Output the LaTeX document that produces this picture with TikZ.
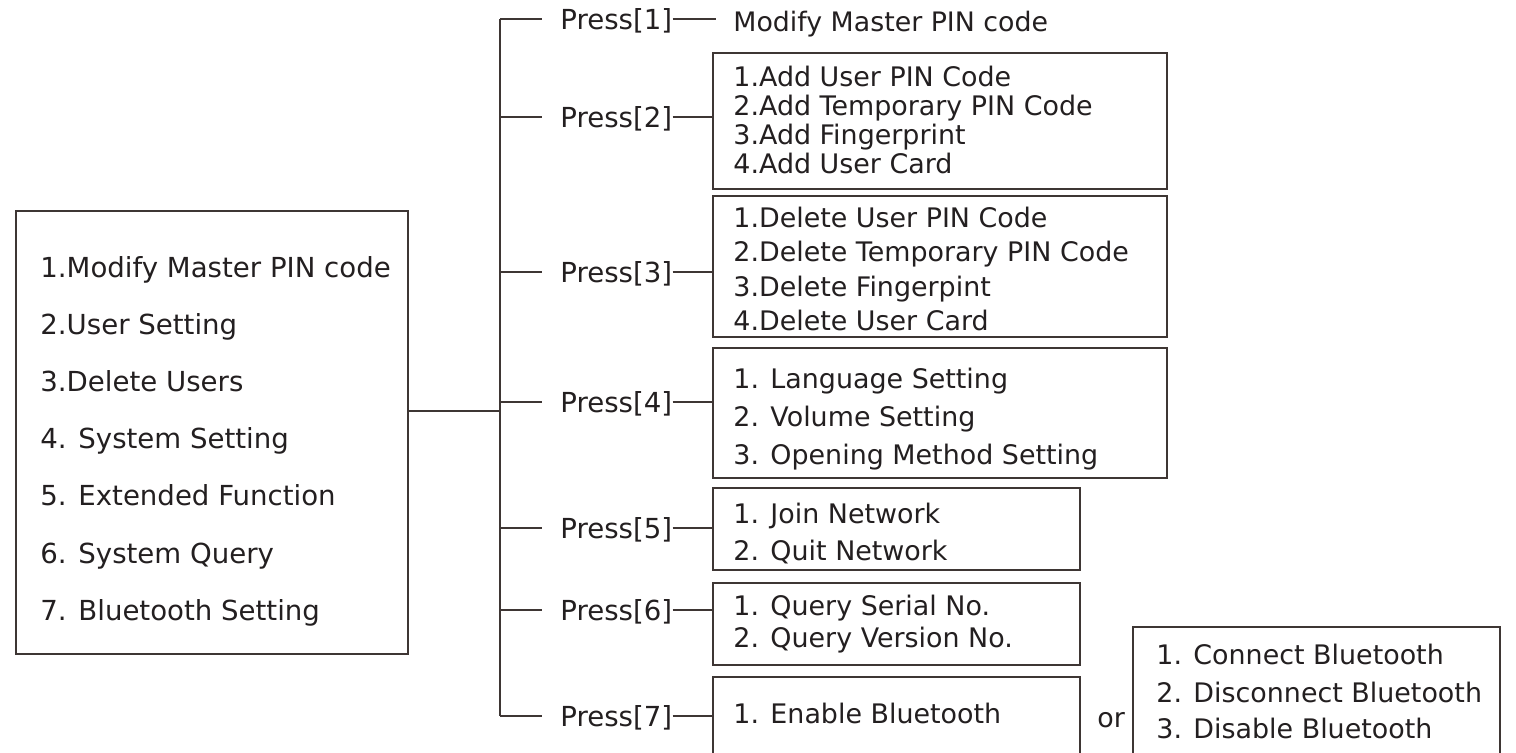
\documentclass[tikz,border=0pt]{standalone}
\usepackage{fontspec}
\setmainfont{DejaVu Sans}
\definecolor{ln}{HTML}{3E3634}
\definecolor{tx}{HTML}{231F20}
\begin{document}
\begin{tikzpicture}[x=0.5pt,y=-0.5pt,
  lbl/.style={anchor=base west,inner sep=0pt,text=tx,font=\fontsize{13.8pt}{16pt}\selectfont},
  sub/.style={anchor=base west,inner sep=0pt,text=tx,font=\fontsize{13.45pt}{16pt}\selectfont},
  menubox/.style={draw=ln,line width=0.75pt,anchor=north west,inner sep=0pt},
  conn/.style={draw=ln,line width=0.75pt}]
\useasboundingbox (0,0) rectangle (1516,752);
\clip (0,0) rectangle (1516,752);
% main box
\node[menubox,minimum width=196pt,minimum height=221.5pt] (main) at (15,210) {};
\foreach \t [count=\i] in {1.Modify Master PIN code,2.User Setting,3.Delete Users,4. System Setting,5. Extended Function,6. System Query,7. Bluetooth Setting}
  \node[lbl] (m\i) at (40,{277+(\i-1)*57.2}) {\t};
% trunk
\coordinate (j0) at (500,411);
\coordinate (t1) at (500,19);
\coordinate (t2) at (500,117);
\coordinate (t3) at (500,272);
\coordinate (t4) at (500,402);
\coordinate (t5) at (500,528);
\coordinate (t6) at (500,610);
\coordinate (t7) at (500,716);
\draw[conn] (j0 -| main.east) -- (j0);
\draw[conn] (t1) -- (t7);
% press labels
\foreach \i/\y in {1/19,2/117,3/272,4/402,5/528,6/610,7/716}{
  \node[lbl] (p\i) at (560,\y+10) {Press[\i]};
  \draw[conn] (t\i) -- (542,\y);
}
% sub boxes
\node[menubox,minimum width=227pt,minimum height=68pt] (b2) at (712,52) {};
\node[menubox,minimum width=227pt,minimum height=70.5pt] (b3) at (712,195) {};
\node[menubox,minimum width=227pt,minimum height=65pt] (b4) at (712,347) {};
\node[menubox,minimum width=183.5pt,minimum height=41pt] (b5) at (712,487) {};
\node[menubox,minimum width=183.5pt,minimum height=41pt] (b6) at (712,582) {};
\node[menubox,minimum width=183.5pt,minimum height=60pt] (b7) at (712,676) {};
\node[menubox,minimum width=183.5pt,minimum height=70pt] (bt) at (1132,626) {};
% connectors press -> box
\node[lbl,font=\fontsize{13.4pt}{16pt}\selectfont] (b1) at (733,31) {Modify Master PIN code};
\coordinate (e1) at (716,19);
\draw[conn] (p1.east |- t1) -- (e1);
\foreach \i/\y in {2/117,3/272,4/402,5/528,6/610,7/716}
  \draw[conn] (p\i.east |- t\i) -- (b\i.west |- t\i);
% box texts
\foreach \t [count=\i] in {1.Add User PIN Code,2.Add Temporary PIN Code,3.Add Fingerprint,4.Add User Card}
  \node[sub] (s2\i) at (733,{86+(\i-1)*29}) {\t};
\foreach \t [count=\i] in {1.Delete User PIN Code,2.Delete Temporary PIN Code,3.Delete Fingerpint,4.Delete User Card}
  \node[sub] (s3\i) at (733,{227.5+(\i-1)*34.3}) {\t};
\foreach \t [count=\i] in {1. Language Setting,2. Volume Setting,3. Opening Method Setting}
  \node[sub] (s4\i) at (733,{388+(\i-1)*38}) {\t};
\node[sub] (s51) at (733,523) {1. Join Network};
\node[sub] (s52) at (733,560) {2. Quit Network};
\node[sub] (s61) at (733,615) {1. Query Serial No.};
\node[sub] (s62) at (733,647) {2. Query Version No.};
\node[sub] (s71) at (733,723) {1. Enable Bluetooth};
\node[sub] (or) at (1097,727) {or};
\node[sub] (st1) at (1156,664) {1. Connect Bluetooth};
\node[sub] (st2) at (1156,702) {2. Disconnect Bluetooth};
\node[sub] (st3) at (1156,738) {3. Disable Bluetooth};
\end{tikzpicture}
\end{document}
